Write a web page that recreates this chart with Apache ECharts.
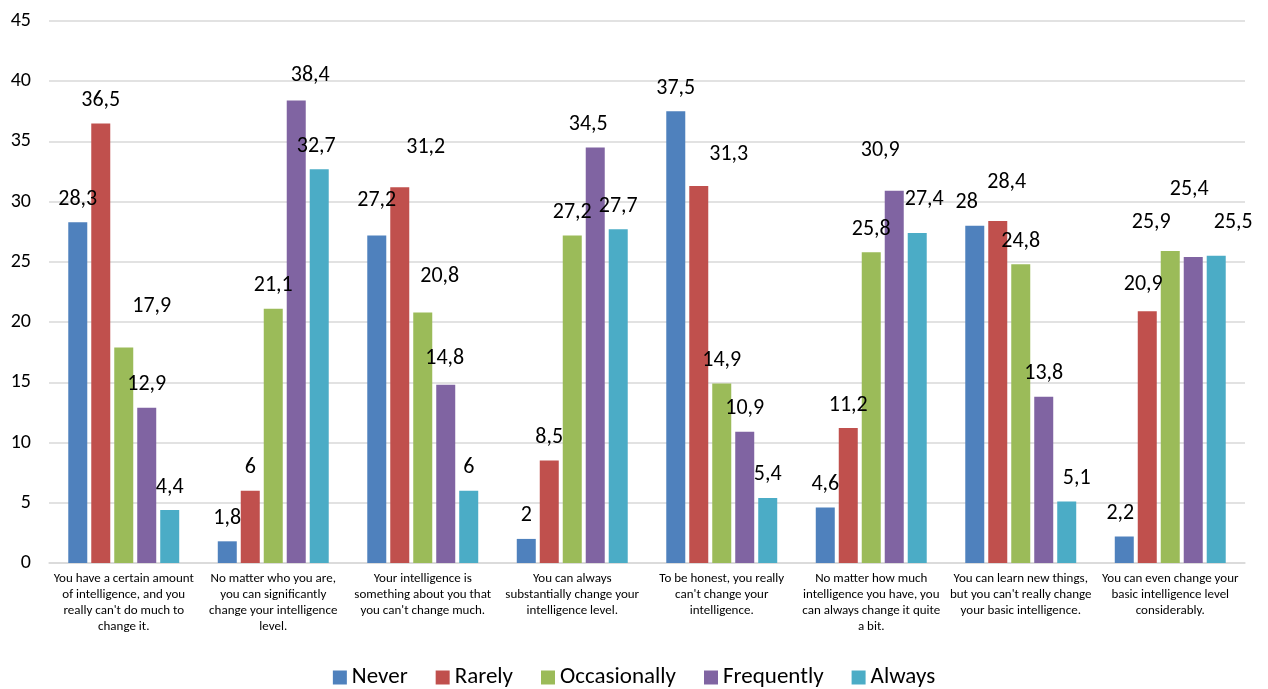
<!DOCTYPE html>
<html>
<head>
<meta charset="utf-8">
<script src="https://cdn.jsdelivr.net/npm/echarts@6/dist/echarts.min.js"></script>
<style>
  html, body { margin: 0; padding: 0; background: #fff; }
  #chart { width: 1268px; height: 689px; }
</style>
</head>
<body>
<div id="chart"></div>
<script>
// Statements about intelligence (pre-wrapped for the category axis)
const categories = [
  "You have a certain amount\nof intelligence, and you\nreally can't do much to\nchange it.",
  "No matter who you are,\nyou can significantly\nchange your intelligence\nlevel.",
  "Your intelligence is\nsomething about you that\nyou can't change much.",
  "You can always\nsubstantially change your\nintelligence level.",
  "To be honest, you really\ncan't change your\nintelligence.",
  "No matter how much\nintelligence you have, you\ncan always change it quite\na bit.",
  "You can learn new things,\nbut you can't really change\nyour basic intelligence.",
  "You can even change your\nbasic intelligence level\nconsiderably."
];

const never        = [28.3, 1.8, 27.2, 2, 37.5, 4.6, 28, 2.2];
const rarely       = [36.5, 6, 31.2, 8.5, 31.3, 11.2, 28.4, 20.9];
const occasionally = [17.9, 21.1, 20.8, 27.2, 14.9, 25.8, 24.8, 25.9];
const frequently   = [12.9, 38.4, 14.8, 34.5, 10.9, 30.9, 13.8, 25.4];
const always       = [4.4, 32.7, 6, 27.7, 5.4, 27.4, 5.1, 25.5];

const seriesNames = ['Never', 'Rarely', 'Occasionally', 'Frequently', 'Always'];
const seriesData = [never, rarely, occasionally, frequently, always];
const colors = ['#4F81BD', '#C0504D', '#9BBB59', '#8064A2', '#4BACC6'];

// Hand-placed label shifts [dx, dy] (px) where crowded labels were moved aside.
// Key: "series,category"
const labelShift = {
  '2,0': [28, -18],
  '3,1': [14, -2],
  '4,1': [-3, 0],
  '0,2': [0, -12],
  '1,2': [26, -17],
  '2,2': [17, -13],
  '3,2': [-1, -3],
  '3,3': [-7, 0],
  '1,4': [30, -9],
  '3,5': [-14, -17],
  '4,5': [7, -10],
  '0,6': [-8, 0],
  '1,6': [9, -15],
  '4,6': [10, 0],
  '0,7': [-4, 0],
  '1,7': [-4, -4],
  '2,7': [-19, -6],
  '3,7': [-4, -45],
  '4,7': [17, -10]
};

const FONT = 'Carlito, Lato, sans-serif';
const fmt = v => String(v).replace('.', ',');

const chart = echarts.init(document.getElementById('chart'), null, { renderer: 'canvas' });

chart.setOption({
  animation: false,
  color: colors,
  textStyle: { fontFamily: FONT },
  grid: { left: 49, right: 23, top: 21, bottom: 126, containLabel: false },
  legend: {
    bottom: -5,
    left: 'center',
    icon: 'rect',
    itemWidth: 14,
    itemHeight: 14,
    itemGap: 28,
    textStyle: { fontFamily: FONT, fontSize: 23, color: '#000' },
    data: seriesNames
  },
  xAxis: {
    type: 'category',
    data: categories,
    axisLine: { lineStyle: { color: '#D9D9D9', width: 1.5 } },
    axisTick: { show: false },
    axisLabel: {
      interval: 0,
      fontFamily: FONT,
      fontSize: 13,
      lineHeight: 16,
      color: '#000',
      margin: 8,
      align: 'center'
    }
  },
  yAxis: {
    type: 'value',
    min: 0,
    max: 45,
    interval: 5,
    axisLine: { show: false },
    axisTick: { show: false },
    splitLine: { lineStyle: { color: '#D9D9D9', width: 1.5 } },
    axisLabel: { fontFamily: FONT, fontSize: 20, color: '#000', margin: 18 }
  },
  series: seriesData.map((d, si) => ({
    name: seriesNames[si],
    type: 'bar',
    barWidth: 19,
    barGap: '21%',
    label: {
      show: true,
      position: 'top',
      distance: 12,
      fontFamily: FONT,
      fontSize: 22,
      color: '#000',
      formatter: p => fmt(p.value)
    },
    data: d.map((v, ci) => {
      const s = labelShift[si + ',' + ci];
      return s ? { value: v, label: { offset: s } } : v;
    })
  }))
});
</script>
</body>
</html>
